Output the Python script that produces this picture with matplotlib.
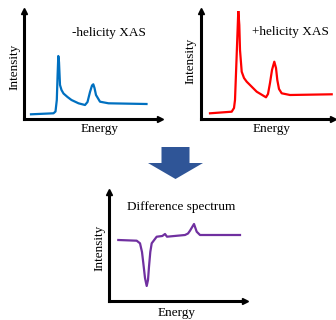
import matplotlib
matplotlib.use("Agg")
import matplotlib.pyplot as plt
from matplotlib.patches import FancyArrow

plt.rcParams['font.family'] = ['Liberation Serif', 'DejaVu Serif']

# -helicity XAS (energy, intensity in arbitrary units)
e_minus = [7.5, 30, 32, 33.3, 34.1, 34.8, 35.5, 36.5, 38, 40, 44, 48, 55,
           61.5, 64, 66.5, 68.5, 69.8, 71, 72.5, 76.5, 85, 123]
i_minus = [4.7, 5.7, 7.5, 19, 44, 63, 57, 34, 29, 25.5, 22, 19, 15.7,
           14, 17, 27, 33.5, 34.7, 31, 24, 17.3, 15.7, 15]

# +helicity XAS
e_plus = [9, 30.7, 33, 34, 35.5, 37.3, 38.3, 39, 40.7, 43, 45.7, 55.7, 65,
          67, 69, 71, 73.3, 75, 76.3, 78, 80.7, 89, 130.7]
i_plus = [5.2, 6.8, 10.5, 18.5, 58.5, 107.8, 93.5, 68.5, 46.8, 40.5, 36.8,
          26.8, 21.2, 24.5, 35.5, 48.5, 56.8, 50.5, 38.5, 29.5, 25.2, 23.5, 24.2]

# difference spectrum
e_diff = [9.3, 27.7, 31, 33, 34.3, 36, 37.7, 39, 40, 41.3, 42.7, 47.7, 53.3,
          56, 58, 76, 79, 81, 85, 87.7, 91, 131]
i_diff = [61, 60.3, 57.7, 49, 38, 23, 15, 21, 34.3, 49, 57.7, 64.3, 65,
          67, 64.3, 66, 67.5, 70.3, 77, 69.3, 66, 66]

W, H = 336, 320
fig = plt.figure(figsize=(W / 100, H / 100), dpi=100)

# overlay in pixel units for labels and the big arrow
ov = fig.add_axes([0, 0, 1, 1])
ov.set_xlim(0, W)
ov.set_ylim(H, 0)
ov.axis('off')


def panel(x0, y0, x1, y1, e, i, color):
    # x0,y0 = axis origin (px), x1 = end of x axis, y1 = top of y axis
    ax = fig.add_axes([x0 / W, 1 - y0 / H, (x1 - x0) / W, (y0 - y1) / H])
    ax.plot(e, i, color=color, lw=1.6, solid_joinstyle='round')
    ax.set_xlim(0, x1 - x0)
    ax.set_ylim(0, y0 - y1)
    ax.patch.set_visible(False)
    for s in ['top', 'right']:
        ax.spines[s].set_visible(False)
    for s in ['left', 'bottom']:
        ax.spines[s].set_linewidth(2.2)
    ax.set_xticks([])
    ax.set_yticks([])
    ax.plot(1, 0, '>', color='k', ms=5, transform=ax.transAxes, clip_on=False)
    ax.plot(0, 1, '^', color='k', ms=5, transform=ax.transAxes, clip_on=False)
    return ax


panel(23.5, 119, 160, 11, e_minus, i_minus, '#0070C0')
panel(201, 118.5, 333, 11, e_plus, i_plus, '#FF0000')
panel(109, 301, 245, 192, e_diff, i_diff, '#7030A0')

fs = 9.5
ov.text(109, 33, '-helicity XAS', fontsize=fs, ha='center', va='center')
ov.text(290.5, 32, '+helicity XAS', fontsize=fs, ha='center', va='center')
ov.text(181, 207, 'Difference spectrum', fontsize=fs, ha='center', va='center')

ov.text(14, 67, 'Intensity', fontsize=fs, rotation=90, ha='center', va='center')
ov.text(190.5, 61, 'Intensity', fontsize=fs, rotation=90, ha='center', va='center')
ov.text(99, 248, 'Intensity', fontsize=fs, rotation=90, ha='center', va='center')

ov.text(100, 129, 'Energy', fontsize=fs, ha='center', va='center')
ov.text(271.5, 129, 'Energy', fontsize=fs, ha='center', va='center')
ov.text(177, 313, 'Energy', fontsize=fs, ha='center', va='center')

ov.add_patch(FancyArrow(175.5, 147, 0, 32, width=28, head_width=55,
                        head_length=16, length_includes_head=True,
                        color='#2F5597', lw=0))

fig.savefig('out.png', dpi=100)
